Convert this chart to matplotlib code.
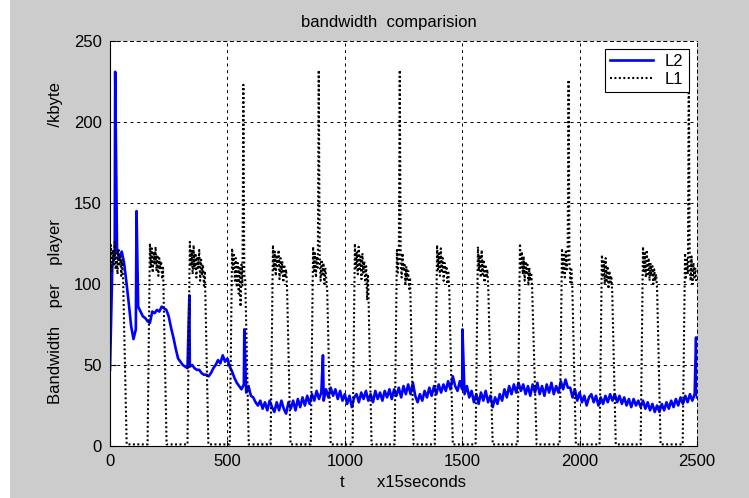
import numpy as np
import matplotlib
matplotlib.use('Agg')
import matplotlib.pyplot as plt
from matplotlib.patches import Rectangle

plt.rcParams['font.family'] = ['Liberation Sans', 'DejaVu Sans']
plt.rcParams['lines.scale_dashes'] = False

l2_step = 10
l2_vals = [
    47, 112, 118, 121, 116, 120, 113, 101, 88, 74,
    66, 72, 86, 83, 80, 79, 77, 76, 83, 82,
    84, 83, 86, 85, 84, 80, 73, 67, 60, 54,
    52, 50, 49, 48, 49, 50, 48, 47, 47, 45,
    44, 44, 43, 45, 48, 50, 53, 51, 56, 52,
    54, 49, 46, 42, 39, 37, 35, 38, 33, 37,
    31, 30, 27, 25, 28, 23, 27, 22, 28, 24,
    21, 27, 22, 28, 23, 20, 27, 23, 28, 22,
    29, 24, 30, 25, 31, 26, 32, 28, 34, 29,
    33, 28, 35, 30, 36, 31, 35, 29, 34, 28,
    32, 26, 31, 24, 30, 32, 27, 33, 29, 34,
    28, 32, 27, 34, 29, 33, 28, 34, 30, 35,
    29, 35, 31, 36, 30, 37, 32, 38, 32, 39,
    31, 27, 32, 28, 34, 30, 36, 31, 37, 32,
    38, 33, 38, 34, 40, 35, 43, 37, 34, 40,
    35, 32, 37, 30, 34, 27, 32, 26, 33, 28,
    34, 27, 31, 24, 30, 26, 32, 28, 35, 30,
    37, 32, 38, 33, 39, 34, 38, 32, 37, 31,
    38, 33, 39, 32, 37, 31, 38, 33, 39, 32,
    37, 33, 40, 35, 41, 36, 36, 30, 35, 28,
    33, 27, 31, 25, 30, 32, 27, 31, 25, 30,
    26, 31, 27, 32, 28, 32, 27, 31, 26, 30,
    25, 29, 24, 29, 25, 28, 24, 28, 23, 27,
    22, 26, 21, 25, 21, 26, 22, 27, 23, 28,
    24, 29, 25, 30, 26, 31, 27, 32, 28, 32,
    30,
]
# single-sample peaks of L2
l2_spike_t = [22, 113, 338, 572, 907, 1501, 2496]
l2_spike_v = [231, 145, 93, 72, 56, 72, 67]

# L1: start of each "on" period and the values read every 4 units while on
l1_step = 4
l1_rise = 10
l1_fall = 15
l1_low = 1
l1_start = [0, 170, 340, 520, 694, 865, 1043, 1222, 1393, 1567, 1746, 1925, 2095, 2270, 2449]
l1_tops = [
    [112, 124, 108, 121, 112, 126, 109, 119, 106, 122, 111, 117, 105, 115, 102],
    [125, 110, 122, 107, 120, 112, 123, 108, 118, 105, 116, 109, 114, 103, 110],
    [126, 111, 121, 106, 124, 109, 119, 104, 117, 110, 121, 102, 115, 106, 112, 99, 108],
    [122, 108, 118, 102, 116, 98, 113, 94, 110, 86, 112, 99, 223, 106, 102],
    [124, 109, 120, 105, 118, 111, 121, 103, 116, 107, 114, 101, 112, 104, 109, 98],
    [123, 108, 119, 104, 117, 110, 232, 118, 102, 115, 106, 113, 100, 110, 103, 96],
    [125, 110, 120, 106, 123, 108, 117, 103, 119, 107, 114, 101, 111, 90, 106],
    [121, 107, 117, 232, 115, 104, 119, 108, 113, 100, 111, 103, 108, 97, 104],
    [124, 109, 119, 105, 122, 107, 116, 102, 113, 106, 111, 100, 107, 96],
    [123, 108, 118, 104, 121, 106, 115, 101, 112, 104, 109, 98, 74],
    [125, 110, 120, 106, 117, 102, 114, 107, 112, 99, 110, 102, 107, 97, 76],
    [122, 107, 118, 104, 120, 109, 115, 226, 112, 101, 109, 98],
    [118, 104, 114, 100, 116, 102, 111, 97, 108, 100, 105, 95],
    [123, 108, 119, 104, 121, 106, 116, 102, 113, 105, 111, 100, 109, 102, 106, 97],
    [119, 104, 115, 106, 233, 110, 102, 117, 100, 113, 104, 110, 101],
]

# build the two series
t2 = np.concatenate([np.arange(len(l2_vals)) * l2_step, l2_spike_t])
v2 = np.concatenate([l2_vals, l2_spike_v])
order = np.argsort(t2, kind='stable')
t2, v2 = t2[order], v2[order]

t1, v1 = [], []
for i, (s, top) in enumerate(zip(l1_start, l1_tops)):
    if s > 0:
        t1.append(s - l1_rise)
        v1.append(l1_low)
    for k, v in enumerate(top):
        t1.append(s + k * l1_step)
        v1.append(v)
    if i < len(l1_start) - 1:
        t1.append(s + (len(top) - 1) * l1_step + l1_fall)
        v1.append(l1_low)

fig = plt.figure(figsize=(7.49, 4.98), dpi=100, facecolor='#cccccc')
fig.patches.append(Rectangle((0, 0), 10 / 749, 1, transform=fig.transFigure,
                             facecolor='white', edgecolor='none', zorder=-5))
ax = fig.add_axes([110 / 749, 1 - 446 / 498, 587 / 749, 405 / 498])
ax.set_facecolor('white')

ax.plot(t2, v2, color='#0000ff', lw=1.9, label='L2')
ax.plot(t1, v1, color='black', lw=1.5, linestyle=(0, (1.4, 1.8)), label='L1')

ax.set_xlim(0, 2500)
ax.set_ylim(0, 250)
ax.set_xticks(np.arange(0, 2501, 500))
ax.set_yticks(np.arange(0, 251, 50))
ax.tick_params(direction='in', length=4, width=0.8, labelsize=12, colors='black', pad=6)

grid_ls = (0, (2.2, 2.6))
ax.grid(True, color='black', linestyle=grid_ls, linewidth=0.7)
ax.set_axisbelow(True)
for side in ['left', 'bottom']:
    ax.spines[side].set_color('black')
    ax.spines[side].set_linewidth(0.8)
for side in ['top', 'right']:
    ax.spines[side].set_linestyle(grid_ls)
    ax.spines[side].set_linewidth(0.7)

ax.set_title('bandwidth  comparision', fontsize=12, pad=10, x=0.475)
ax.set_xlabel('t       x15seconds', fontsize=12, labelpad=4)
ax.set_ylabel('Bandwidth    per    player                    /kbyte', fontsize=12, labelpad=8)

leg = ax.legend(loc='upper right', fontsize=12, fancybox=False, edgecolor='black',
                framealpha=1, handlelength=2.6, borderpad=0.3, labelspacing=0.15,
                handletextpad=0.7, borderaxespad=0.5)
leg.get_frame().set_linewidth(0.8)

fig.savefig('out.png', dpi=100, facecolor=fig.get_facecolor())
